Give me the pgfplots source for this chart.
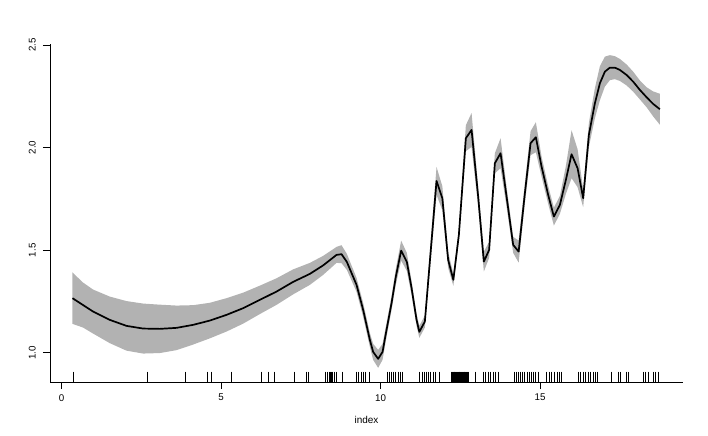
\documentclass[border=0pt]{standalone}
\usepackage{pgfplots}
\pgfplotsset{compat=1.18}
\usepackage{pgfplotstable}
\usepgfplotslibrary{fillbetween}
\usepackage{fontspec}
\setmainfont{Liberation Sans}
\definecolor{bandgray}{gray}{0.70}

\pgfplotstableread{
x y d
0.345 1.2664 0.1252
0.677 1.2328 0.1096
0.991 1.2012 0.1072
1.514 1.1607 0.1135
2.038 1.1315 0.1208
2.558 1.1184 0.1218
3.082 1.1169 0.1179
3.605 1.1218 0.1086
4.125 1.1364 0.0960
4.649 1.1573 0.0867
5.172 1.1851 0.0813
5.693 1.2177 0.0755
6.216 1.2582 0.0692
6.740 1.2986 0.0648
7.260 1.3458 0.0609
7.784 1.3848 0.0536
8.201 1.4262 0.0463
8.621 1.4774 0.0390
8.777 1.4808 0.0438
8.944 1.4433 0.0390
9.248 1.3312 0.0340
9.455 1.2095 0.0340
9.665 1.0633 0.0340
9.768 1.0049 0.0390
9.925 0.9708 0.0438
10.063 1.0049 0.0390
10.188 1.1120 0.0340
10.345 1.2421 0.0340
10.480 1.3717 0.0390
10.646 1.4983 0.0487
10.824 1.4433 0.0438
10.972 1.3166 0.0340
11.129 1.1607 0.0292
11.216 1.1023 0.0292
11.389 1.1525 0.0292
11.755 1.8378 0.0682
11.937 1.7535 0.0585
12.119 1.4530 0.0390
12.282 1.3556 0.0292
12.455 1.5748 0.0292
12.674 2.0458 0.0633
12.853 2.0862 0.0828
13.060 1.7613 0.0487
13.238 1.4447 0.0487
13.404 1.5017 0.0390
13.583 1.9240 0.0487
13.762 1.9727 0.0731
13.950 1.7613 0.0487
14.157 1.5261 0.0390
14.329 1.4934 0.0536
14.524 1.7779 0.0487
14.702 2.0215 0.0585
14.868 2.0507 0.0731
15.047 1.9075 0.0487
15.254 1.7696 0.0438
15.433 1.6639 0.0438
15.621 1.7209 0.0438
15.809 1.8427 0.0682
15.987 1.9679 0.1169
16.176 1.8997 0.0925
16.351 1.7535 0.0438
16.530 2.0619 0.0585
16.718 2.2163 0.0731
16.875 2.3137 0.0828
17.031 2.3702 0.0731
17.188 2.3897 0.0609
17.345 2.3897 0.0560
17.502 2.3785 0.0536
17.712 2.3541 0.0511
17.918 2.3215 0.0487
18.129 2.2811 0.0463
18.339 2.2455 0.0487
18.545 2.2129 0.0609
18.755 2.1871 0.0755
}\fitdata

\pgfplotstableread{
x y
0.364 0.8833
2.683 0.8833
3.875 0.8833
4.577 0.8833
4.702 0.8833
5.317 0.8833
6.257 0.8833
6.476 0.8833
6.665 0.8833
7.313 0.8833
7.680 0.8833
7.743 0.8833
8.276 0.8833
8.339 0.8833
8.389 0.8833
8.442 0.8833
8.470 0.8833
8.495 0.8833
8.545 0.8833
8.621 0.8833
8.809 0.8833
9.248 0.8833
9.320 0.8833
9.404 0.8833
9.477 0.8833
9.539 0.8833
9.643 0.8833
10.207 0.8833
10.270 0.8833
10.345 0.8833
10.395 0.8833
10.480 0.8833
10.552 0.8833
10.627 0.8833
10.677 0.8833
11.232 0.8833
11.304 0.8833
11.367 0.8833
11.442 0.8833
11.514 0.8833
11.577 0.8833
11.649 0.8833
11.724 0.8833
11.859 0.8833
12.226 0.8833
12.250 0.8833
12.276 0.8833
12.300 0.8833
12.329 0.8833
12.355 0.8833
12.382 0.8833
12.408 0.8833
12.433 0.8833
12.460 0.8833
12.486 0.8833
12.512 0.8833
12.539 0.8833
12.565 0.8833
12.589 0.8833
12.615 0.8833
12.643 0.8833
12.670 0.8833
12.696 0.8833
12.720 0.8833
12.746 0.8833
12.987 0.8833
13.216 0.8833
13.292 0.8833
13.373 0.8833
13.448 0.8833
13.530 0.8833
13.615 0.8833
13.687 0.8833
14.210 0.8833
14.263 0.8833
14.335 0.8833
14.389 0.8833
14.451 0.8833
14.524 0.8833
14.596 0.8833
14.658 0.8833
14.734 0.8833
14.806 0.8833
14.868 0.8833
14.940 0.8833
15.204 0.8833
15.285 0.8833
15.361 0.8833
15.464 0.8833
15.536 0.8833
15.621 0.8833
15.674 0.8833
16.216 0.8833
16.279 0.8833
16.351 0.8833
16.436 0.8833
16.508 0.8833
16.583 0.8833
16.665 0.8833
16.740 0.8833
16.790 0.8833
17.241 0.8833
17.448 0.8833
17.524 0.8833
17.712 0.8833
17.784 0.8833
18.232 0.8833
18.307 0.8833
18.389 0.8833
18.545 0.8833
18.618 0.8833
18.702 0.8833
}\rugdata

\begin{document}
\begin{tikzpicture}
\begin{axis}[
  scale only axis,
  width=633bp, height=338bp,
  at={(0,0)}, anchor=south west,
  xmin=-0.36, xmax=19.48,
  ymin=0.858, ymax=2.505,
  axis lines*=left,
  axis line style={line width=0.8bp, black},
  xtick={0,5,10,15},
  xticklabels={0,5,10,15},
  ytick={1,1.5,2,2.5},
  yticklabels={1.0,1.5,2.0,2.5},
  tick align=outside,
  major tick length=7bp,
  tick style={line width=0.8bp, black},
  ticklabel style={font=\fontsize{9.8}{11}\selectfont},
  xticklabel style={anchor=north, inner sep=0pt, yshift=-5bp},
  yticklabel style={rotate=90, anchor=south, inner sep=0pt},
  yticklabel shift=7bp,
  xlabel={index},
  xlabel style={font=\fontsize{10}{12}\selectfont, at={(axis description cs:0.5,0)}, anchor=base, yshift=-41.5bp},
  clip=false,
]
\addplot[name path=hi, draw=none, forget plot] table[x=x, y expr=\thisrow{y}+\thisrow{d}] {\fitdata};
\addplot[name path=lo, draw=none, forget plot] table[x=x, y expr=\thisrow{y}-\thisrow{d}] {\fitdata};
\addplot[fill=bandgray, draw=none] fill between[of=hi and lo];
\addplot[black, line width=1.7bp, line join=round] table[x=x, y=y] {\fitdata};
\addplot[only marks, mark=|, mark size=5.2bp, mark options={black, line width=0.85bp}] table[x=x, y=y] {\rugdata};
\end{axis}
\path[use as bounding box] (-50bp,-54bp) rectangle (658bp,382bp);
\end{tikzpicture}
\end{document}
